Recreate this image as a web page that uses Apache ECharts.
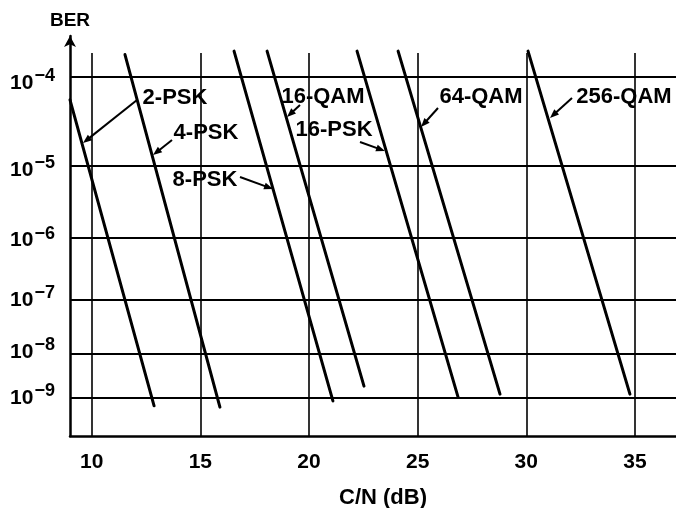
<!DOCTYPE html>
<html><head><meta charset="utf-8">
<script src="https://cdn.jsdelivr.net/npm/echarts@6/dist/echarts.min.js"></script>
<style>html,body{margin:0;padding:0;background:#fff}#c{width:676px;height:508px}</style>
</head><body><div id="c"></div>
<script>
// ---- data (C/N in dB, BER) ----
const seriesNames = ['2-PSK','4-PSK','8-PSK','16-QAM','16-PSK','64-QAM','256-QAM'];
const cn2PSK = [9.0, 12.87];    const ber2PSK = [6.2e-5, 5.6e-10];
const cn4PSK = [11.53, 15.90];  const ber4PSK = [1.8e-4, 5.2e-10];
const cn8PSK = [16.55, 21.10];  const ber8PSK = [1.94e-4, 7.3e-10];
const cn16QAM = [18.07, 22.53]; const ber16QAM = [1.94e-4, 1.6e-9];
const cn16PSK = [22.21, 26.86]; const ber16PSK = [1.94e-4, 9.0e-10];
const cn64QAM = [24.10, 28.79]; const ber64QAM = [1.94e-4, 1.05e-9];
const cn256QAM = [30.08, 34.77];const ber256QAM = [1.94e-4, 1.05e-9];
const xTicks = [10, 15, 20, 25, 30, 35];
const yTickExps = [-4, -5, -6, -7, -8, -9];
const xRange = [9, 36.89];
const berRange = [1e-10, 2.69e-4];
const vGridTopBER = 1.86e-4;

const F = "'Liberation Sans', Arial, Helvetica, sans-serif";
// probability-paper scale: straight lines for BER ~ exp(-SNR)
const u = b => -Math.log10(-Math.log(b));

const curves = [
  [cn2PSK, ber2PSK],[cn4PSK, ber4PSK],[cn8PSK, ber8PSK],[cn16QAM, ber16QAM],
  [cn16PSK, ber16PSK],[cn64QAM, ber64QAM],[cn256QAM, ber256QAM]
];

// ---- annotation layout (pixels) ----
const labelLayout = [
  {t:'2-PSK', x:175, y:98}, {t:'4-PSK', x:206, y:133}, {t:'8-PSK', x:205, y:180},
  {t:'16-QAM', x:323, y:97}, {t:'16-PSK', x:334, y:130}, {t:'64-QAM', x:481, y:97},
  {t:'256-QAM', x:624, y:97}
];
const leaders = [
  [137,100,83,143],[172,140,153,155],[240,177,273,189],[300,105,287,117],
  [360,142,385,151],[438,108,421,127],[572,98,550,118]
];

function arrow(x1,y1,x2,y2){
  const dx=x2-x1, dy=y2-y1, L=Math.hypot(dx,dy), ux=dx/L, uy=dy/L;
  const hl=9, hw=3.5, bx=x2-ux*hl, by=y2-uy*hl;
  return [
    {type:'line', z:4, shape:{x1,y1,x2:bx+ux*2,y2:by+uy*2}, style:{stroke:'#000', lineWidth:2}},
    {type:'polygon', z:4, shape:{points:[[x2,y2],[bx-uy*hw,by+ux*hw],[bx+uy*hw,by-ux*hw]]}, style:{fill:'#000'}}
  ];
}

const graphics = [];
labelLayout.forEach(l => graphics.push({
  type:'text', x:l.x, y:l.y, z:2,
  style:{text:l.t, fontSize:22, fontWeight:'bold', fontFamily:F, fill:'#000',
    align:'center', verticalAlign:'middle', textAlign:'center', textVerticalAlign:'middle',
    backgroundColor:'#fff', padding:[1,2]}
}));
leaders.forEach(a => graphics.push(...arrow(...a)));

const gridLines = [];
yTickExps.forEach(e => gridLines.push({yAxis: u(Math.pow(10, e)), lineStyle:{color:'#000', width:2, type:'solid'}}));
xTicks.forEach(x => gridLines.push([
  {coord:[x, u(vGridTopBER)], lineStyle:{color:'#000', width:1.6, type:'solid'}},
  {coord:[x, u(berRange[0])]}
]));

const chart = echarts.init(document.getElementById('c'), null, {renderer:'canvas'});
chart.setOption({
  animation:false,
  backgroundColor:'#fff',
  grid:{left:70, right:0, top:36, bottom:72, containLabel:false, outerBoundsMode:'none'},
  xAxis:{
    type:'value', min:xRange[0], max:xRange[1],
    axisLine:{onZero:false, lineStyle:{color:'#000', width:2.5}},
    axisTick:{show:false}, splitLine:{show:false},
    axisLabel:{customValues:xTicks, fontSize:21, fontWeight:'bold', fontFamily:F, color:'#000', margin:16},
    name:'C/N (dB)', nameLocation:'middle', nameGap:51,
    nameTextStyle:{fontSize:22, fontWeight:'bold', fontFamily:F, color:'#000', padding:[0,0,0,20]}
  },
  yAxis:{
    type:'value', min:u(berRange[0]), max:u(berRange[1]),
    axisLine:{show:true, onZero:false, symbol:['none','arrow'], symbolSize:[9,11], lineStyle:{color:'#000', width:2.5}},
    axisTick:{show:false}, splitLine:{show:false},
    axisLabel:{
      customValues: yTickExps.map(e => u(Math.pow(10, e))),
      formatter: v => {
        const e = yTickExps.find(k => Math.abs(u(Math.pow(10,k)) - v) < 1e-6);
        return '{b|10}{s|\u2212' + (-e) + '}';
      },
      margin:15, color:'#000', padding:[6,0,0,0],
      rich:{
        b:{fontSize:21, fontWeight:'bold', fontFamily:F, color:'#000', verticalAlign:'middle'},
        s:{fontSize:18, fontWeight:'bold', fontFamily:F, color:'#000', verticalAlign:'middle', padding:[0,0,14,1]}
      }
    },
    name:'BER', nameLocation:'end', nameGap:6,
    nameTextStyle:{fontSize:19, fontWeight:'bold', fontFamily:F, color:'#000', align:'center'}
  },
  series:[
    {type:'line', name:'grid', data:[], z:1, silent:true,
     markLine:{silent:true, symbol:['none','none'], label:{show:false}, animation:false, data:gridLines}},
    ...curves.map((c,i) => ({
      type:'line', name:seriesNames[i], z:3, silent:true, symbol:'none',
      data:c[0].map((x,j) => [x, u(c[1][j])]),
      lineStyle:{color:'#000', width:3, cap:'round'}
    }))
  ],
  graphic:{elements:graphics}
});
</script></body></html>
